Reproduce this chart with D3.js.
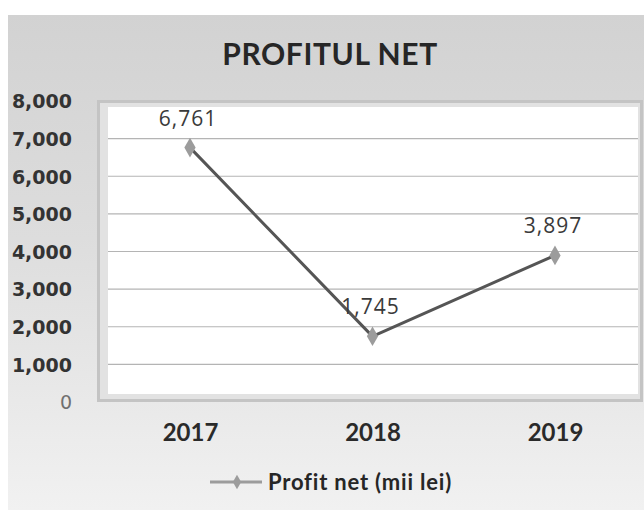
<!DOCTYPE html>
<html>
<head>
<meta charset="utf-8">
<script src="https://cdn.jsdelivr.net/npm/d3@7"></script>
<style>
  html, body { margin: 0; padding: 0; background: #ffffff; }
  svg { display: block; }
</style>
</head>
<body>
<svg id="chart" width="644" height="510"></svg>
<script>
// ---- data ----
const years = ["2017", "2018", "2019"];
const profit = [6761, 1745, 3897];
const yTicks = [0, 1000, 2000, 3000, 4000, 5000, 6000, 7000, 8000];
const title = "PROFITUL NET";
const seriesName = "Profit net (mii lei)";

const svg = d3.select("#chart");
const W = 644, H = 510;

// background gradient
const defs = svg.append("defs");
const grad = defs.append("linearGradient").attr("id", "bg").attr("x1", 0).attr("y1", 0).attr("x2", 0).attr("y2", 1);
grad.append("stop").attr("offset", "0%").attr("stop-color", "#d2d2d2");
grad.append("stop").attr("offset", "45%").attr("stop-color", "#dddddd");
grad.append("stop").attr("offset", "100%").attr("stop-color", "#f1f1f1");

svg.append("rect").attr("x", 0).attr("y", 0).attr("width", W).attr("height", H).attr("fill", "#ffffff");
svg.append("rect").attr("x", 8).attr("y", 15).attr("width", W - 8).attr("height", H - 15).attr("fill", "url(#bg)");

// scales
const y = d3.scaleLinear().domain([0, 8000]).range([402, 101]);
const x = d3.scalePoint().domain(years).range([190, 555]);

// plot area (3D-like walls)
const plot = { x0: 97, y0: 100, x1: 643, y1: 402 };
svg.append("rect").attr("x", plot.x0).attr("y", plot.y0)
  .attr("width", plot.x1 - plot.x0).attr("height", plot.y1 - plot.y0)
  .attr("fill", "#c4c4c4");
svg.append("rect").attr("x", plot.x0 + 3).attr("y", plot.y0 + 3)
  .attr("width", plot.x1 - plot.x0 - 6).attr("height", plot.y1 - plot.y0 - 6)
  .attr("fill", "#e2e2e2");
svg.append("rect").attr("x", 108).attr("y", 107)
  .attr("width", 638 - 108).attr("height", 394 - 107)
  .attr("fill", "#ffffff");

// gridlines
svg.append("g").selectAll("line")
  .data(yTicks.filter(v => v > 0 && v < 8000))
  .join("line")
  .attr("x1", 108).attr("x2", 638)
  .attr("y1", d => y(d)).attr("y2", d => y(d))
  .attr("stroke", "#b4b4b4").attr("stroke-width", 1.2);

// y axis labels
const yAxis = d3.axisLeft(y).tickValues(yTicks).tickFormat(d3.format(",")).tickSize(0).tickPadding(0);
const gy = svg.append("g").attr("transform", "translate(72,0)").call(yAxis);
gy.select(".domain").remove();
gy.selectAll("text")
  .attr("font-family", "'DejaVu Sans', Verdana, sans-serif")
  .attr("font-weight", "bold")
  .attr("font-size", 19)
  .attr("fill", "#333333")
  .attr("dy", "0.36em");
gy.selectAll("text").filter(d => d === 0).attr("fill", "#707070").attr("font-weight", "normal");

// x axis labels
const xAxis = d3.axisBottom(x).tickSize(0).tickPadding(0);
const gx = svg.append("g").attr("transform", "translate(0,441)").call(xAxis);
gx.select(".domain").remove();
gx.selectAll("text")
  .attr("font-family", "Lato, sans-serif")
  .attr("font-weight", "bold")
  .attr("font-size", 24)
  .attr("fill", "#2a2a2a")
  .attr("dy", 0);

// title
svg.append("text").attr("x", 330).attr("y", 65)
  .attr("text-anchor", "middle")
  .attr("font-family", "Lato, sans-serif").attr("font-weight", "bold")
  .attr("font-size", 30).attr("letter-spacing", 0.6).attr("fill", "#262626")
  .text(title);

// line
const pts = years.map((yr, i) => ({ yr, v: profit[i] }));
const line = d3.line().x(d => x(d.yr)).y(d => y(d.v));
svg.append("path").datum(pts)
  .attr("d", line).attr("fill", "none")
  .attr("stroke", "#555555").attr("stroke-width", 3).attr("stroke-linejoin", "round");

// markers
const diamond = d3.symbol().type(d3.symbolDiamond).size(110);
svg.append("g").selectAll("path").data(pts).join("path")
  .attr("d", diamond)
  .attr("transform", d => `translate(${x(d.yr)},${y(d.v)})`)
  .attr("fill", "#9c9c9c");

// data labels
svg.append("g").selectAll("text").data(pts).join("text")
  .attr("x", d => x(d.yr) - 2)
  .attr("y", d => y(d.v) - 22)
  .attr("text-anchor", "middle")
  .attr("font-family", "'Open Sans', sans-serif")
  .attr("font-size", 21)
  .attr("letter-spacing", 1)
  .attr("fill", "#3a3a3a")
  .text(d => d3.format(",")(d.v));

// legend
const lg = svg.append("g");
lg.append("line").attr("x1", 210).attr("x2", 262).attr("y1", 482).attr("y2", 482)
  .attr("stroke", "#9c9c9c").attr("stroke-width", 3);
lg.append("path").attr("d", d3.symbol().type(d3.symbolDiamond).size(60))
  .attr("transform", "translate(237,482)").attr("fill", "#9c9c9c");
lg.append("text").attr("x", 268).attr("y", 490)
  .attr("font-family", "Lato, sans-serif").attr("font-weight", "bold")
  .attr("font-size", 22).attr("letter-spacing", 0.8).attr("fill", "#262626")
  .text(seriesName);
</script>
</body>
</html>
